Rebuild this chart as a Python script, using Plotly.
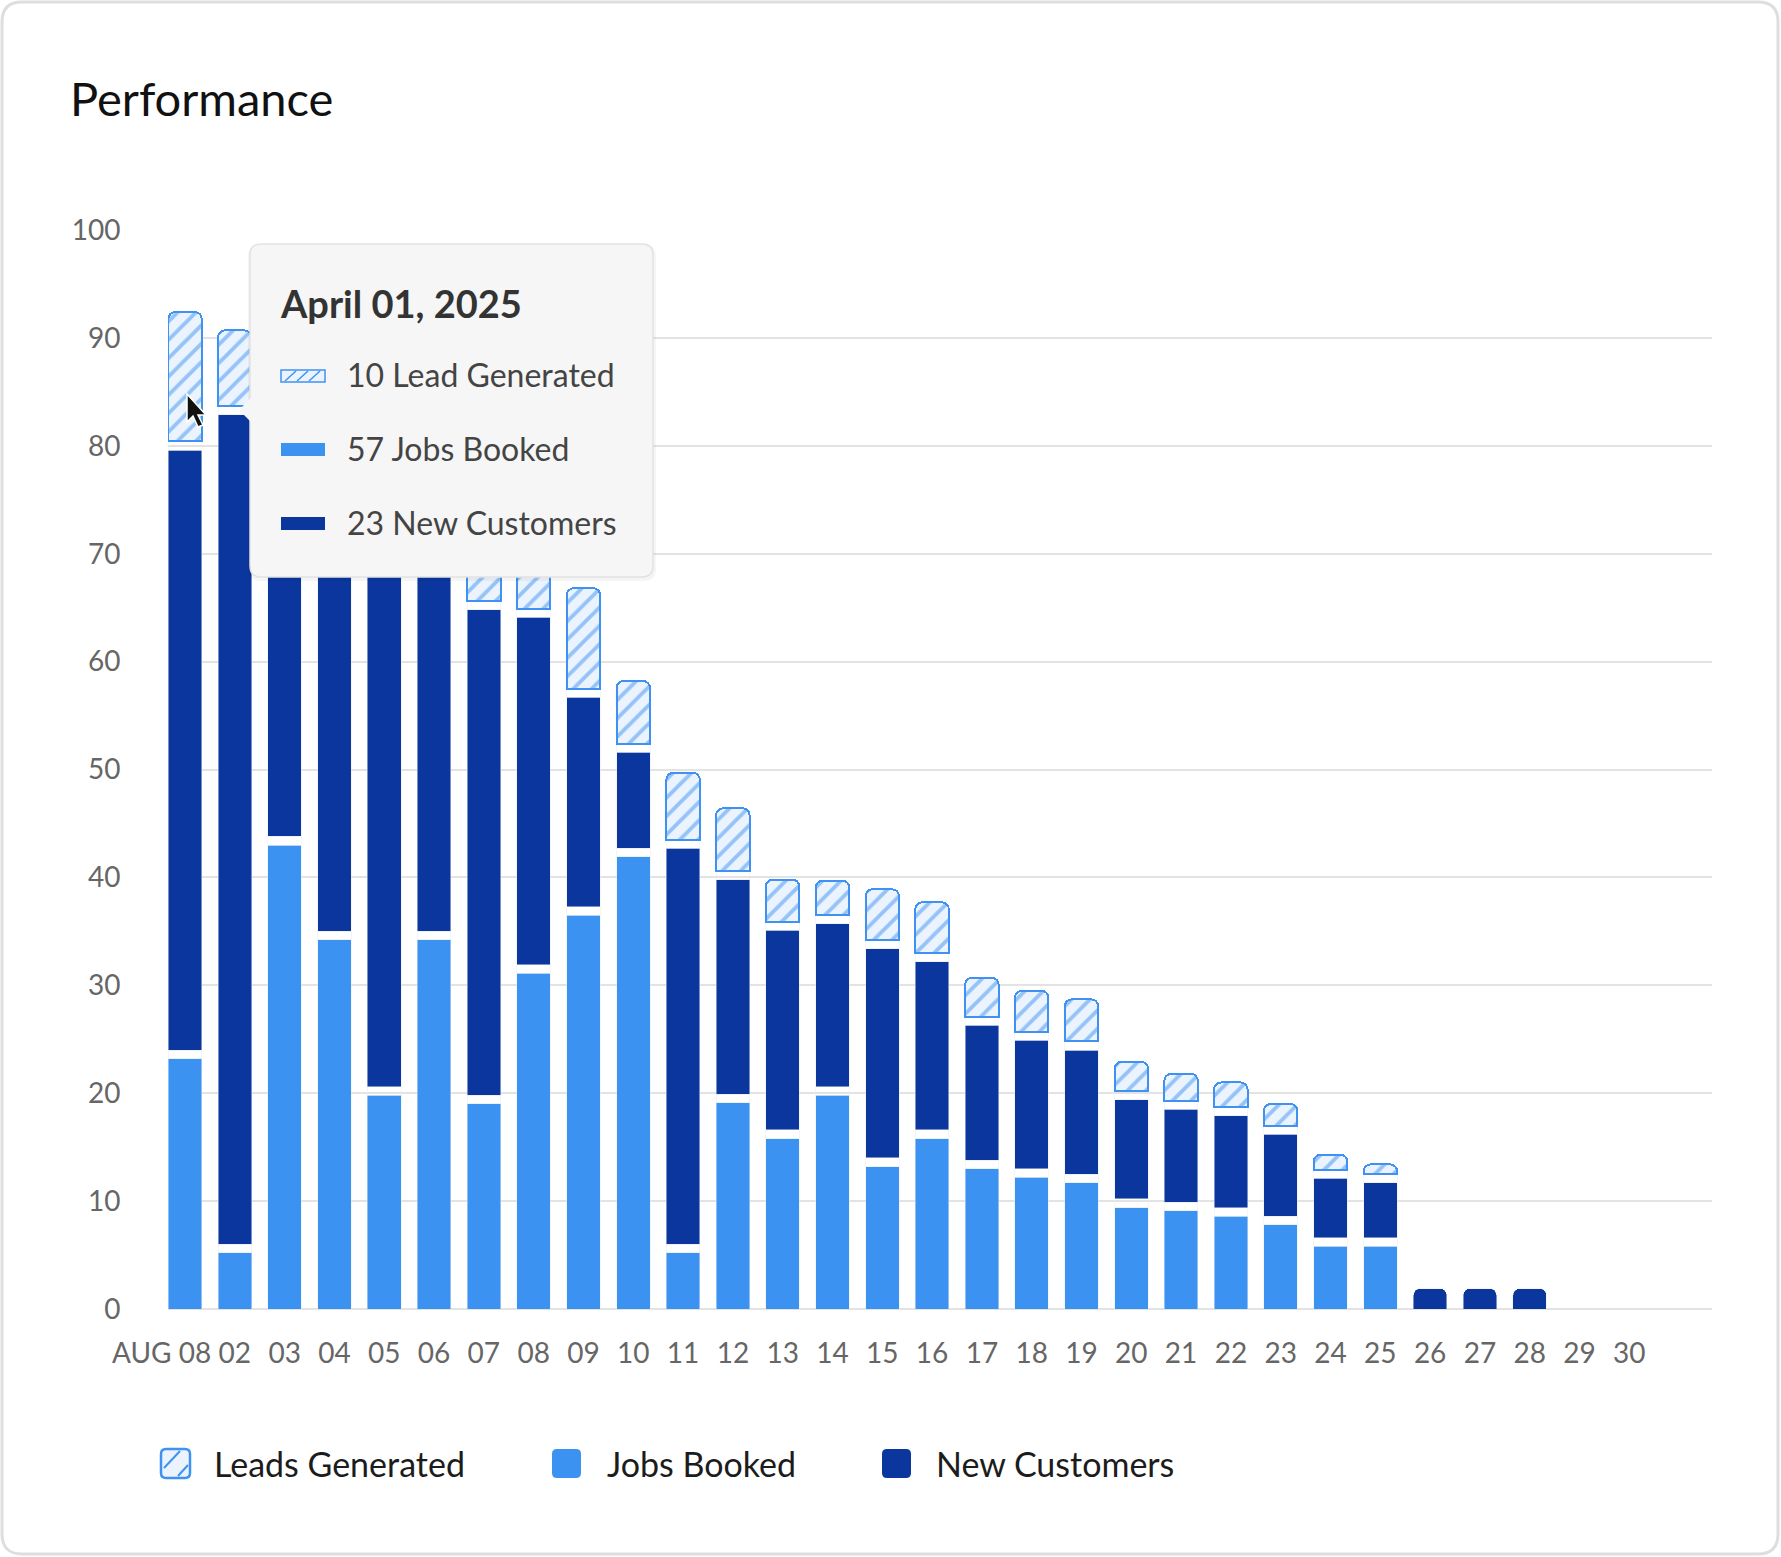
import plotly.graph_objects as go

# x labels (one bar per day)
days = ["AUG 08", "02", "03", "04", "05", "06", "07", "08", "09", "10",
        "11", "12", "13", "14", "15", "16", "17", "18", "19", "20",
        "21", "22", "23", "24", "25", "26", "27", "28", "29", "30"]

jobs_booked = [23.2, 5.2, 43.0, 34.2, 19.8, 34.2, 19.0, 31.1, 36.5, 41.9,
               5.2, 19.1, 15.8, 19.8, 13.2, 15.8, 13.0, 12.2, 11.7, 9.4,
               9.1, 8.6, 7.8, 5.8, 5.8, 0, 0, 0, 0, 0]

new_customers = [55.6, 76.9, 36.8, 43.0, 55.4, 38.0, 45.0, 32.2, 19.4, 8.9,
                 36.7, 19.9, 18.5, 15.1, 19.4, 15.6, 12.5, 11.9, 11.5, 9.2,
                 8.6, 8.5, 7.6, 5.5, 5.1, 1.9, 1.9, 1.9, 0, 0]

leads_generated = [12.0, 7.0, 6.7, 7.0, 6.2, 6.2, 6.3, 5.6, 9.3, 5.8,
                   6.2, 5.8, 3.9, 3.2, 4.7, 4.7, 3.6, 3.8, 3.9, 2.7,
                   2.5, 2.3, 2.0, 1.4, 0.9, 0, 0, 0, 0, 0]

series_names = ["Leads Generated", "Jobs Booked", "New Customers"]

# hover card shown in the screenshot
tooltip_date = "April 01, 2025"
tooltip_values = [10, 57, 23]
tooltip_labels = ["Lead Generated", "Jobs Booked", "New Customers"]

LIGHT = "#3b92f1"
DARK = "#0a369d"
HATCH_LINE = "#3f92f1"
HATCH_BG = "#ebf4fe"
GRID = "#e3e3e3"
TICK = dict(family="Lato", size=28, color="#666666")
GAP = 0.8  # white gap between stacked segments, in axis units

W, H = 1781, 1557
L, R, T, B = 168, 69, 230, 248


def px(x):
    return (x - L) / (W - L - R)


def py(y):
    return (H - B - y) / (H - T - B)


def pt(x, y):
    return f"{px(x):.5f},{py(y):.5f}"


def rounded_rect(x0, y0, x1, y1, r):
    return (f"M {pt(x0 + r, y0)} L {pt(x1 - r, y0)} Q {pt(x1, y0)} {pt(x1, y0 + r)} "
            f"L {pt(x1, y1 - r)} Q {pt(x1, y1)} {pt(x1 - r, y1)} "
            f"L {pt(x0 + r, y1)} Q {pt(x0, y1)} {pt(x0, y1 - r)} "
            f"L {pt(x0, y0 + r)} Q {pt(x0, y0)} {pt(x0 + r, y0)} Z")


def blank_zero(values):
    return [v if v > 0 else None for v in values]


idx = list(range(len(days)))
gap_low = [GAP if j > 0 and c > 0 else None for j, c in zip(jobs_booked, new_customers)]
gap_high = [GAP if l > 0 else None for l in leads_generated]

# first label carries the month and sits left of its bar, drawn as an annotation
ticktext = [""] + days[1:]

fig = go.Figure()
fig.add_trace(go.Bar(x=idx, y=blank_zero(jobs_booked), name=series_names[1],
                     marker_color=LIGHT))
fig.add_trace(go.Bar(x=idx, y=gap_low, marker_color="rgba(0,0,0,0)",
                     hoverinfo="skip"))
fig.add_trace(go.Bar(x=idx, y=blank_zero(new_customers), name=series_names[2],
                     marker_color=DARK))
fig.add_trace(go.Bar(x=idx, y=gap_high, marker_color="rgba(0,0,0,0)",
                     hoverinfo="skip"))
fig.add_trace(go.Bar(x=idx, y=blank_zero(leads_generated), name=series_names[0],
                     marker=dict(color=HATCH_BG,
                                 line=dict(color=HATCH_LINE, width=2),
                                 pattern=dict(shape="/", fgcolor=HATCH_LINE,
                                              bgcolor=HATCH_BG, size=13,
                                              solidity=0.3))))

shapes = []
annotations = []

# card outline
shapes.append(dict(type="path", xref="paper", yref="paper", layer="below",
                   path=rounded_rect(2, 2, W - 3, H - 3, 20),
                   line=dict(color="#dedede", width=3)))

# tooltip card
shapes.append(dict(type="path", xref="paper", yref="paper", layer="above",
                   path=rounded_rect(248, 244, 656, 581, 12),
                   fillcolor="rgba(0,0,0,0.04)", line=dict(width=0)))
shapes.append(dict(type="path", xref="paper", yref="paper", layer="above",
                   path=rounded_rect(250, 244, 653, 577, 11),
                   fillcolor="#f6f6f6", line=dict(color="#e2e2e2", width=1.5)))
shapes.append(dict(type="path", xref="paper", yref="paper", layer="above",
                   path=f"M {pt(251, 398)} L {pt(239, 410)} L {pt(251, 422)} Z",
                   fillcolor="#f6f6f6", line=dict(width=0)))
shapes.append(dict(type="rect", xref="paper", yref="paper", layer="above",
                   x0=px(281), x1=px(325), y0=py(382), y1=py(370),
                   fillcolor=HATCH_BG, line=dict(color=HATCH_LINE, width=1.5)))
for hx in (285, 297, 309):
    shapes.append(dict(type="line", xref="paper", yref="paper", layer="above",
                       x0=px(hx), y0=py(381), x1=px(hx + 11), y1=py(371),
                       line=dict(color=HATCH_LINE, width=1.5)))
shapes.append(dict(type="rect", xref="paper", yref="paper", layer="above",
                   x0=px(281), x1=px(325), y0=py(456), y1=py(443),
                   fillcolor=LIGHT, line=dict(width=0)))
shapes.append(dict(type="rect", xref="paper", yref="paper", layer="above",
                   x0=px(281), x1=px(325), y0=py(530), y1=py(517),
                   fillcolor=DARK, line=dict(width=0)))

# mouse pointer
shapes.append(dict(type="path", xref="paper", yref="paper", layer="above",
                   path=(f"M {pt(187, 394)} L {pt(187, 422)} L {pt(193, 416)} "
                         f"L {pt(198, 427)} L {pt(203, 425)} L {pt(198, 415)} "
                         f"L {pt(206, 415)} Z"),
                   fillcolor="#111111", line=dict(color="white", width=1.5)))

annotations.append(dict(xref="paper", yref="paper", x=px(278), y=py(303),
                        xanchor="left", yanchor="middle", showarrow=False,
                        text=f"<b>{tooltip_date}</b>",
                        font=dict(family="Lato", size=38, color="#333333")))
for value, label, ty in zip(tooltip_values, tooltip_labels, (374, 448, 522)):
    annotations.append(dict(xref="paper", yref="paper", x=px(345), y=py(ty),
                            xanchor="left", yanchor="middle", showarrow=False,
                            text=f"{value} {label}",
                            font=dict(family="Lato", size=32, color="#444444")))

# month + first day label
annotations.append(dict(xref="x", yref="paper", x=idx[0], y=0, xshift=-24,
                        yshift=-43, xanchor="center", yanchor="middle",
                        showarrow=False, text=days[0], font=TICK))

# legend row below the chart
legend_icons = [(161, "hatch"), (552, LIGHT), (882, DARK)]
legend_text_x = [212, 605, 934]
for (ix, swatch), tx, name in zip(legend_icons, legend_text_x, series_names):
    if swatch == "hatch":
        shapes.append(dict(type="path", xref="paper", yref="paper", layer="above",
                           path=rounded_rect(ix, 1449, ix + 29, 1478, 5),
                           fillcolor=HATCH_BG, line=dict(color=HATCH_LINE, width=2.5)))
        shapes.append(dict(type="line", xref="paper", yref="paper", layer="above",
                           x0=px(ix + 3), y0=py(1468), x1=px(ix + 19), y1=py(1451),
                           line=dict(color=HATCH_LINE, width=2)))
        shapes.append(dict(type="line", xref="paper", yref="paper", layer="above",
                           x0=px(ix + 17), y0=py(1476), x1=px(ix + 27), y1=py(1465),
                           line=dict(color=HATCH_LINE, width=2)))
    else:
        shapes.append(dict(type="path", xref="paper", yref="paper", layer="above",
                           path=rounded_rect(ix, 1449, ix + 29, 1478, 5),
                           fillcolor=swatch, line=dict(width=0)))
    annotations.append(dict(xref="paper", yref="paper", x=px(tx), y=py(1463),
                            xanchor="left", yanchor="middle", showarrow=False,
                            text=name,
                            font=dict(family="Lato", size=34, color="#1c1c1c")))

fig.update_layout(
    width=W, height=H,
    margin=dict(l=L, r=R, t=T, b=B),
    paper_bgcolor="white", plot_bgcolor="white",
    font=dict(family="Lato"),
    barmode="stack", bargap=0.327, barcornerradius=7,
    showlegend=False,
    title=dict(text="Performance", xref="container", yref="container",
               x=70 / W, xanchor="left", y=1 - 100 / H, yanchor="middle",
               font=dict(family="Lato", size=47, color="#111111")),
    xaxis=dict(range=[-0.342, 30.66], tickmode="array", tickvals=idx,
               ticktext=ticktext, tickangle=0, showgrid=False, zeroline=False,
               showline=False, ticks="outside", ticklen=19,
               tickcolor="rgba(0,0,0,0)", tickfont=TICK),
    yaxis=dict(range=[0, 100], dtick=10, showgrid=True, gridcolor=GRID,
               gridwidth=2, zeroline=True, zerolinecolor=GRID, zerolinewidth=2,
               ticks="outside", ticklen=41, tickcolor="rgba(0,0,0,0)",
               tickfont=TICK),
    shapes=shapes,
    annotations=annotations,
    hovermode=False,
)

# page body margin would push the figure off the 1781x1557 window
fig.write_html("out.html", config={"displayModeBar": False},
               post_script="document.body.style.margin = '0';")
